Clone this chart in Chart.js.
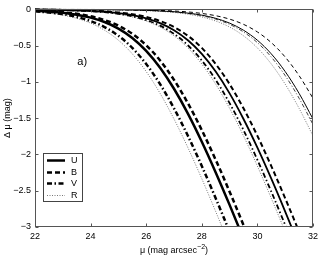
<!DOCTYPE html>
<html>
<head>
<meta charset="utf-8">
<script src="https://cdn.jsdelivr.net/npm/chart.js@4/dist/chart.umd.min.js"></script>
<style>
html, body { margin: 0; padding: 0; background: #fff; }
</style>
</head>
<body>
<canvas id="chart" width="322" height="256"></canvas>
<script>
// surface brightness grid (mag arcsec^-2)
const mu = [22, 22.5, 23, 23.5, 24, 24.5, 25, 25.5, 26, 26.5, 27, 27.5, 28, 28.5, 29, 29.5, 30, 30.5, 31, 31.5, 32];
const bands = ['U', 'B', 'V', 'R'];
const xTicks = [22, 24, 26, 28, 30, 32];
const yTicks = [0, -0.5, -1, -1.5, -2, -2.5, -3];

// group a (thick lines)
const g1U = [-0.019, -0.030, -0.046, -0.073, -0.113, -0.174, -0.264, -0.393, -0.571, -0.804, -1.094, -1.436, -1.824, -2.247, -2.695, -3.161, -3.639, -4.125, -4.616, -5.110, -5.607];
const g1B = [-0.016, -0.025, -0.039, -0.061, -0.095, -0.147, -0.224, -0.336, -0.494, -0.704, -0.971, -1.293, -1.664, -2.074, -2.513, -2.973, -3.446, -3.930, -4.419, -4.912, -5.407];
const g1V = [-0.027, -0.042, -0.066, -0.104, -0.160, -0.243, -0.364, -0.531, -0.753, -1.031, -1.364, -1.743, -2.160, -2.604, -3.066, -3.542, -4.027, -4.517, -5.011, -5.507, -6.004];
const g1R = [-0.032, -0.051, -0.079, -0.123, -0.189, -0.287, -0.425, -0.613, -0.857, -1.158, -1.511, -1.906, -2.334, -2.787, -3.256, -3.735, -4.220, -4.710, -5.200, -5.700, -6.200];

// group b (medium lines)
const g2U = [-0.003, -0.005, -0.008, -0.013, -0.021, -0.032, -0.051, -0.079, -0.123, -0.189, -0.287, -0.425, -0.613, -0.857, -1.158, -1.511, -1.906, -2.334, -2.787, -3.256, -3.735];
const g2B = [-0.003, -0.004, -0.007, -0.011, -0.017, -0.027, -0.042, -0.066, -0.104, -0.160, -0.243, -0.364, -0.531, -0.753, -1.031, -1.364, -1.743, -2.160, -2.604, -3.066, -3.542];
const g2V = [-0.004, -0.006, -0.010, -0.016, -0.025, -0.039, -0.061, -0.095, -0.147, -0.224, -0.336, -0.494, -0.704, -0.971, -1.293, -1.664, -2.074, -2.513, -2.973, -3.446, -3.930];
const g2R = [-0.004, -0.007, -0.011, -0.017, -0.027, -0.042, -0.066, -0.104, -0.160, -0.243, -0.364, -0.531, -0.753, -1.031, -1.364, -1.743, -2.160, -2.604, -3.066, -3.542, -4.027];

// group c (thin lines)
const g3U = [0, -0.001, -0.001, -0.001, -0.002, -0.003, -0.005, -0.008, -0.013, -0.021, -0.032, -0.051, -0.079, -0.123, -0.189, -0.287, -0.425, -0.613, -0.857, -1.158, -1.511];
const g3B = [0, 0, -0.001, -0.001, -0.001, -0.002, -0.004, -0.006, -0.009, -0.014, -0.022, -0.035, -0.056, -0.087, -0.134, -0.206, -0.311, -0.458, -0.657, -0.913, -1.225];
const g3V = [0, -0.001, -0.001, -0.001, -0.002, -0.004, -0.006, -0.009, -0.014, -0.022, -0.035, -0.056, -0.087, -0.134, -0.206, -0.311, -0.458, -0.657, -0.913, -1.225, -1.587];
const g3R = [0, -0.001, -0.001, -0.002, -0.003, -0.004, -0.007, -0.011, -0.017, -0.027, -0.042, -0.066, -0.104, -0.160, -0.243, -0.364, -0.531, -0.753, -1.031, -1.364, -1.743];

const FONT = '"Liberation Sans", Arial, sans-serif';
Chart.defaults.font.family = FONT;
Chart.defaults.font.size = 9;
Chart.defaults.color = '#000';

function line(label, values, width, dash, color) {
    return {
        label,
        data: values.map((v, i) => ({ x: mu[i], y: v })),
        borderColor: color || '#000',
        borderWidth: width,
        borderDash: dash,
        pointRadius: 0,
        fill: false,
        cubicInterpolationMode: 'monotone',
        clip: { left: 0, top: 3, right: 0, bottom: 0 }
    };
}

const dashB = [5, 3];
const dashV = [5, 2.5, 1.5, 2.5];
const dotR = [1, 1.5];
const grey = '#777';

const datasets = [
    line('U', g1U, 2.5, []), line('B', g1B, 2.5, dashB), line('V', g1V, 2.5, dashV), line('R', g1R, 1, dotR, grey),
    line('U', g2U, 1.8, []), line('B', g2B, 2, dashB), line('V', g2V, 1.8, dashV), line('R', g2R, 1, dotR, grey),
    line('U', g3U, 1, []), line('B', g3B, 1, [4, 3]), line('V', g3V, 1, [4, 2, 1, 2], '#444'), line('R', g3R, 1, dotR, grey)
];

const minus = v => (v < 0 ? '\u2212' + Math.abs(v) : String(v));

// matlab-like box with inward ticks, titles, legend and panel label
const decor = {
    id: 'decor',
    afterDraw(chart) {
        const { ctx, chartArea: a, scales: { x, y } } = chart;
        ctx.save();
        ctx.strokeStyle = '#555';
        ctx.lineWidth = 1;
        const L = Math.round(a.left) + 0.5, R = Math.round(a.right) - 0.5;
        const T = Math.round(a.top) + 0.5, B = Math.round(a.bottom) - 0.5;
        ctx.strokeRect(L, T, R - L, B - T);
        ctx.beginPath();
        xTicks.forEach(v => {
            const px = Math.round(x.getPixelForValue(v)) + 0.5;
            ctx.moveTo(px, B); ctx.lineTo(px, B - 3);
            ctx.moveTo(px, T); ctx.lineTo(px, T + 3);
        });
        yTicks.forEach(v => {
            const py = Math.round(y.getPixelForValue(v)) + 0.5;
            ctx.moveTo(L, py); ctx.lineTo(L + 3, py);
            ctx.moveTo(R, py); ctx.lineTo(R - 3, py);
        });
        ctx.stroke();

        // panel label
        ctx.fillStyle = '#000';
        ctx.font = '11px ' + FONT;
        ctx.textAlign = 'center';
        ctx.textBaseline = 'middle';
        ctx.fillText('a)', x.getPixelForValue(23.7), y.getPixelForValue(-0.73));

        // x title with superscript
        const cx = (a.left + a.right) / 2, ty = 250;
        const base = '\u03bc (mag arcsec', sup = '\u22122', end = ')';
        ctx.font = '9px ' + FONT;
        const w1 = ctx.measureText(base).width, w3 = ctx.measureText(end).width;
        ctx.font = '7px ' + FONT;
        const w2 = ctx.measureText(sup).width;
        let sx = cx - (w1 + w2 + w3) / 2;
        ctx.textAlign = 'left';
        ctx.textBaseline = 'alphabetic';
        ctx.font = '9px ' + FONT;
        ctx.fillText(base, sx, ty + 3);
        ctx.font = '7px ' + FONT;
        ctx.fillText(sup, sx + w1, ty - 1);
        ctx.font = '9px ' + FONT;
        ctx.fillText(end, sx + w1 + w2, ty + 3);

        // y title
        ctx.save();
        ctx.translate(8, (a.top + a.bottom) / 2);
        ctx.rotate(-Math.PI / 2);
        ctx.textAlign = 'center';
        ctx.textBaseline = 'middle';
        ctx.fillText('\u0394 \u03bc (mag)', 0, 0);
        ctx.restore();

        // legend box
        const lx = a.left + 8, ly = a.bottom - 74;
        ctx.fillStyle = '#fff';
        ctx.fillRect(lx, ly, 39, 48);
        ctx.strokeStyle = '#444';
        ctx.lineWidth = 1;
        ctx.strokeRect(Math.round(lx) + 0.5, Math.round(ly) + 0.5, 39, 48);
        bands.forEach((b, i) => {
            const ds = chart.data.datasets[i];
            const yy = Math.round(ly + 7 + i * 11.7) + 0.5;
            ctx.strokeStyle = ds.borderColor;
            ctx.lineWidth = ds.borderWidth;
            ctx.setLineDash(ds.borderDash);
            ctx.beginPath();
            ctx.moveTo(lx + 4, yy); ctx.lineTo(lx + 22, yy);
            ctx.stroke();
            ctx.setLineDash([]);
            ctx.fillStyle = '#000';
            ctx.font = '9px ' + FONT;
            ctx.textAlign = 'left';
            ctx.textBaseline = 'middle';
            ctx.fillText(b, lx + 28, yy);
        });
        ctx.restore();
    }
};

new Chart(document.getElementById('chart'), {
    type: 'line',
    data: { datasets },
    plugins: [decor],
    options: {
        responsive: false,
        animation: false,
        layout: { padding: { top: 9, right: 9, left: 0, bottom: 0 } },
        plugins: { legend: { display: false }, tooltip: { enabled: false } },
        scales: {
            x: {
                type: 'linear', min: 22, max: 32,
                grid: { display: false, drawTicks: false }, border: { display: false },
                afterBuildTicks: s => { s.ticks = xTicks.map(v => ({ value: v })); },
                afterFit: s => { s.height = 29; },
                ticks: { padding: 4, maxRotation: 0, callback: minus }
            },
            y: {
                min: -3, max: 0,
                grid: { display: false, drawTicks: false }, border: { display: false },
                afterBuildTicks: s => { s.ticks = yTicks.map(v => ({ value: v })); },
                afterFit: s => { s.width = 35; },
                ticks: { padding: 4, callback: minus }
            }
        }
    }
});
</script>
</body>
</html>
